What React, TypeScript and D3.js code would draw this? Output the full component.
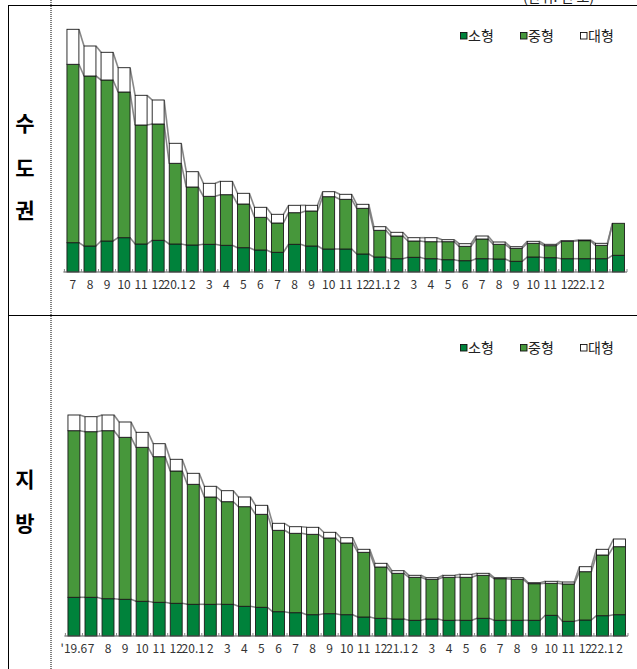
import React from "react";
import * as d3 from "d3";

// Category labels (monthly)
const labelsTop = ["7","8","9","10","11","12","20.1","2","3","4","5","6","7","8","9","10","11","12","21.1","2","3","4","5","6","7","8","9","10","11","12","22.1","2",""];
const labelsBottom = ["'19.6","7","8","9","10","11","12","20.1","2","3","4","5","6","7","8","9","10","11","12","21.1","2","3","4","5","6","7","8","9","10","11","12","22.1","2"];

// 수도권 (capital region)
const capSmall = [29.3,26,31,34.3,28,31.7,28,27,27.7,26.7,24.3,22,19.7,27.7,26,23,23,18,15,13.3,14.7,13.3,12.3,11.3,13.3,13,10.7,15,14.3,13.3,13.3,13.3,16.7];
const capMedium = [178.4,170,161,145.7,119,116.3,80.7,58,48,50.6,43.7,32.7,29.3,31.6,35,52.3,49.7,45.7,26.7,22.7,16.3,17,18,14.4,19.7,14.7,13,13.7,12,17.4,18,13.4,32];
const capLarge = [35,30,27.7,24.3,29.7,24,20,15.3,13,13.4,10.7,10,8.7,7.4,5.7,5,5,4,3.6,3.7,3.3,4,2,2.6,3,2.3,1.6,2,1.4,0.6,0.7,2,0];

// 지방 (provinces)
const locSmall = [38.7,38.7,37.3,36.7,34.7,33.7,32.7,31.7,31.7,31.7,29.7,28.7,24.3,23.3,21.3,22.3,21.3,19,17.7,17,15.7,17,15.7,15.7,17.7,15.7,15.7,15.7,20.7,14.7,16,20.3,21.3];
const locMedium = [166.6,165.6,168,162,154,145.6,132.3,120,107.3,102.6,99.6,93,81.4,79.4,80.4,75.7,71.7,64.7,51.3,45.7,43,39.7,43,43,43,41.6,41,36.6,32,37.3,48.3,60.7,68];
const locLarge = [15.7,15,15.7,15.3,15,13,11.7,11,10.7,11,9.7,9,7,6.6,7,5.7,5.3,3,3.7,2.6,2,1.6,2,3,2,1,1.6,1,2,2,5,5.7,7.7];

const seriesNames = ["소형", "중형", "대형"];
const COLORS = ["#00823b", "#47973b", "#ffffff"];
const FONT = "'Noto Sans CJK KR', 'Noto Sans', sans-serif";

type PanelProps = {
  baseline: number;
  maxVal: number;
  maxY: number;
  xShift: number;
  labels: string[];
  small: number[];
  medium: number[];
  large: number[];
  legendY: number;
  title: string[];
  titleYs: number[];
};

function Panel(p: PanelProps) {
  const n = p.labels.length;
  const x = d3
    .scaleBand<number>()
    .domain(d3.range(n))
    .range([64.4 + p.xShift, 627 + p.xShift])
    .paddingInner(0.3)
    .paddingOuter(0.15);
  const y = d3.scaleLinear().domain([0, p.maxVal]).range([p.baseline, p.maxY]);
  const rows = d3.range(n).map((i) => ({ small: p.small[i], medium: p.medium[i], large: p.large[i] }));
  const stack = d3.stack<any>().keys(["small", "medium", "large"])(rows);
  const bw = x.bandwidth();
  const step = x.step();
  const axisStart = (x(0) as number) - step * 0.15 - 1;
  const axisEnd = (x(n - 1) as number) + bw + step * 0.15;

  return (
    <g>
      {stack.map((layer, li) => (
        <g key={"l" + li}>
          {d3.range(n - 1).map((i) => (
            <line
              key={i}
              x1={(x(i) as number) + bw}
              y1={y(layer[i][1])}
              x2={x(i + 1) as number}
              y2={y(layer[i + 1][1])}
              stroke="#7a7a7a"
              strokeWidth={1.6}
              strokeOpacity={0.9}
            />
          ))}
        </g>
      ))}
      {stack.map((layer, li) => (
        <g key={"b" + li}>
          {layer.map((d, i) =>
            d[1] - d[0] <= 0 ? null : (
              <rect
                key={i}
                x={x(i) as number}
                y={y(d[1])}
                width={bw}
                height={y(d[0]) - y(d[1])}
                fill={COLORS[li]}
                stroke="#1a1a1a"
                strokeWidth={0.9}
              />
            )
          )}
        </g>
      ))}
      <line x1={axisStart} x2={axisEnd} y1={p.baseline} y2={p.baseline} stroke="#555" strokeWidth={1.2} />
      {d3.range(n + 1).map((i) => {
        const tx = axisStart + 1 + i * step;
        return <line key={"t" + i} x1={tx} x2={tx} y1={p.baseline} y2={p.baseline - 3} stroke="#888" strokeWidth={1} />;
      })}
      {p.labels.map((l, i) => (
        <text
          key={"x" + i}
          x={(x(i) as number) + bw / 2}
          y={p.baseline + 17}
          textAnchor="middle"
          fontSize={12}
          fontFamily={FONT}
          fill="#333"
        >
          {l}
        </text>
      ))}
      {seriesNames.map((s, i) => (
        <g key={"lg" + i} transform={`translate(${460 + i * 60},${p.legendY})`}>
          <rect x={0.5} y={-3.5} width={6.5} height={6.5} fill={COLORS[i]} stroke="#111" strokeWidth={0.9} />
          <text x={8} y={5} fontSize={14} fontFamily={FONT} fill="#222">
            {s}
          </text>
        </g>
      ))}
      {p.title.map((t, i) => (
        <text
          key={"ti" + i}
          x={25}
          y={p.titleYs[i]}
          textAnchor="middle"
          dominantBaseline="central"
          fontSize={21}
          fontWeight="bold"
          fontFamily={FONT}
          fill="#000"
        >
          {t}
        </text>
      ))}
    </g>
  );
}

export default function App() {
  return (
    <svg
      width={637}
      height={669}
      style={{ position: "absolute", left: 0, top: 0, background: "#fff" }}
    >
      <rect x={0} y={0} width={637} height={669} fill="#fff" />
      <text x={523} y={2} fontSize={14} fontFamily={FONT} fill="#222">
        (단위: 천 호)
      </text>
      <line x1={8} x2={637} y1={5.5} y2={5.5} stroke="#000" strokeWidth={1} />
      <line x1={8} x2={637} y1={315.5} y2={315.5} stroke="#000" strokeWidth={1} />
      <line x1={8.5} x2={8.5} y1={5} y2={669} stroke="#000" strokeWidth={1} />
      <line x1={51} x2={51} y1={0} y2={669} stroke="#000" strokeWidth={1} strokeDasharray="1,1" />
      <Panel
        baseline={272}
        maxVal={242.7}
        maxY={29.3}
        xShift={0}
        labels={labelsTop}
        small={capSmall}
        medium={capMedium}
        large={capLarge}
        legendY={36}
        title={["수", "도", "권"]}
        titleYs={[122, 167, 209]}
      />
      <Panel
        baseline={636}
        maxVal={221}
        maxY={415}
        xShift={1}
        labels={labelsBottom}
        small={locSmall}
        medium={locMedium}
        large={locLarge}
        legendY={348}
        title={["지", "방"]}
        titleYs={[478, 522]}
      />
    </svg>
  );
}
